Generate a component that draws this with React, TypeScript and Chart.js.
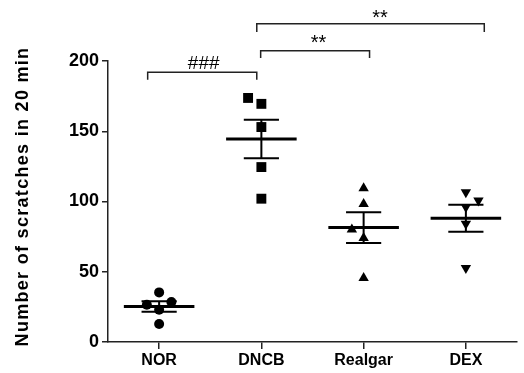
import React, { useEffect, useRef } from "react";
import { Chart, registerables } from "chart.js";

Chart.register(...registerables);

const categories = ["NOR", "DNCB", "Realgar", "DEX"];
const yTicks = [0, 50, 100, 150, 200];

const norValues = [35.3, 26.5, 28.5, 23, 12.8];
const dncbValues = [173.7, 169.5, 153, 124.5, 102];
const realgarValues = [109.5, 98.2, 80, 74, 45.5];
const dexValues = [106.5, 100.8, 96.1, 84.2, 52.7];

// horizontal jitter of individual points (in category units)
const norJitter = [0, -0.12, 0.12, 0, 0];
const dncbJitter = [-0.13, 0, 0, 0, 0];
const realgarJitter = [0, 0, -0.115, 0, 0];
const dexJitter = [0, 0.123, 0, 0, 0];

// significance brackets: from / to (category units), level and leg end (value units)
const bracketFrom = [-0.112, 0.993, 0.955];
const bracketTo = [0.955, 2.058, 3.18];
const bracketLevel = [192, 207.3, 226.6];
const bracketLegEnd = [186.7, 202.1, 220.7];
const bracketLabels = ["###", "**", "**"];
const bracketLabelX = [0.436, 1.558, 2.16];
const bracketLabelBaseline = [194.3, 208.6, 226.2];

const yTitle = "Number of scratches in 20 min";

const FONT = '"Liberation Sans", Arial, Helvetica, sans-serif';

const groups = [norValues, dncbValues, realgarValues, dexValues];
const jitters = [norJitter, dncbJitter, realgarJitter, dexJitter];
const pointStyles = ["circle", "rect", "triangle", "triangle"];
const pointRadii = [5, 7, 6, 6];
const pointRotations = [0, 0, 0, 180];

function meanOf(a: number[]) {
  return a.reduce((s, v) => s + v, 0) / a.length;
}
function semOf(a: number[]) {
  const m = meanOf(a);
  const v = a.reduce((s, x) => s + (x - m) * (x - m), 0) / (a.length - 1);
  return Math.sqrt(v) / Math.sqrt(a.length);
}

const errorPlugin = {
  id: "meanSem",
  beforeDatasetsDraw(chart: any) {
    const { ctx, scales } = chart;
    const xs = scales.x;
    const ys = scales.y;
    ctx.save();
    ctx.strokeStyle = "#000";
    groups.forEach((vals, i) => {
      const m = meanOf(vals);
      const s = semOf(vals);
      const yM = ys.getPixelForValue(m);
      const yHi = ys.getPixelForValue(m + s);
      const yLo = ys.getPixelForValue(m - s);
      const xC = xs.getPixelForValue(i);
      const xML = xs.getPixelForValue(i - 0.345);
      const xMR = xs.getPixelForValue(i + 0.345);
      const xCL = xs.getPixelForValue(i - 0.172);
      const xCR = xs.getPixelForValue(i + 0.172);
      ctx.lineWidth = 3;
      ctx.beginPath();
      ctx.moveTo(xML, yM);
      ctx.lineTo(xMR, yM);
      ctx.stroke();
      ctx.lineWidth = 2;
      ctx.beginPath();
      ctx.moveTo(xC, yHi);
      ctx.lineTo(xC, yLo);
      ctx.moveTo(xCL, yHi);
      ctx.lineTo(xCR, yHi);
      ctx.moveTo(xCL, yLo);
      ctx.lineTo(xCR, yLo);
      ctx.stroke();
    });
    ctx.restore();
  },
  afterDraw(chart: any) {
    const { ctx, scales, chartArea } = chart;
    const xs = scales.x;
    const ys = scales.y;
    ctx.save();
    ctx.strokeStyle = "#222";
    ctx.lineWidth = 1.5;
    bracketFrom.forEach((f, i) => {
      const x1 = xs.getPixelForValue(f);
      const x2 = xs.getPixelForValue(bracketTo[i]);
      const yl = ys.getPixelForValue(bracketLevel[i]);
      const ye = ys.getPixelForValue(bracketLegEnd[i]);
      ctx.beginPath();
      ctx.moveTo(x1, ye);
      ctx.lineTo(x1, yl);
      ctx.lineTo(x2, yl);
      ctx.lineTo(x2, ye);
      ctx.stroke();
      ctx.fillStyle = "#000";
      ctx.textAlign = "center";
      ctx.textBaseline = "alphabetic";
      ctx.font = bracketLabels[i] === "###" ? `19px ${FONT}` : `20px ${FONT}`;
      ctx.fillText(
        bracketLabels[i],
        xs.getPixelForValue(bracketLabelX[i]),
        ys.getPixelForValue(bracketLabelBaseline[i])
      );
    });
    // y axis title
    ctx.translate(28, (chartArea.top + chartArea.bottom) / 2 - 5);
    ctx.rotate(-Math.PI / 2);
    ctx.font = `bold 18px ${FONT}`;
    try {
      (ctx as any).letterSpacing = "1.3px";
    } catch (e) {}
    ctx.textAlign = "center";
    ctx.textBaseline = "alphabetic";
    ctx.fillStyle = "#000";
    ctx.fillText(yTitle, 0, 0);
    ctx.restore();
  },
};

export default function App() {
  const ref = useRef<HTMLCanvasElement>(null);
  useEffect(() => {
    document.body.style.margin = "0";
    const canvas = ref.current;
    if (!canvas) return;
    const datasets = groups.map((vals, i) => ({
      label: categories[i],
      data: vals.map((v, j) => ({ x: i + jitters[i][j], y: v })),
      pointStyle: pointStyles[i] as any,
      pointRadius: pointRadii[i],
      pointRotation: pointRotations[i],
      backgroundColor: "#000",
      borderColor: "#000",
      borderWidth: 0,
      showLine: false,
    }));
    const chart = new Chart(canvas, {
      type: "scatter",
      data: { datasets },
      plugins: [errorPlugin],
      options: {
        animation: false,
        responsive: false,
        maintainAspectRatio: false,
        layout: { padding: { top: 61, left: 0, right: 0, bottom: 0 } },
        plugins: { legend: { display: false }, tooltip: { enabled: false }, title: { display: false } },
        scales: {
          x: {
            type: "linear",
            min: -0.5,
            max: 3.5,
            afterBuildTicks: (scale: any) => {
              scale.ticks = categories.map((_, i) => ({ value: i }));
            },
            afterFit: (scale: any) => {
              scale.height = 31;
            },
            ticks: {
              callback: (v: any) => categories[Math.round(Number(v))] ?? "",
              color: "#000",
              font: { family: FONT, size: 16, weight: "bold" },
              padding: 2,
              maxRotation: 0,
              autoSkip: false,
            },
            grid: { drawOnChartArea: false, tickLength: 7, color: "#222", lineWidth: 1.5 },
            border: { color: "#222", width: 1.5 },
          },
          y: {
            type: "linear",
            min: 0,
            max: 200,
            afterBuildTicks: (scale: any) => {
              scale.ticks = yTicks.map((v) => ({ value: v }));
            },
            afterFit: (scale: any) => {
              scale.width = 108;
            },
            ticks: {
              color: "#000",
              font: { family: FONT, size: 18, weight: "bold" },
              padding: 3,
            },
            grid: { drawOnChartArea: false, tickLength: 6, color: "#222", lineWidth: 1.5 },
            border: { color: "#222", width: 1.5 },
          },
        },
      },
    });
    return () => chart.destroy();
  }, []);
  return <canvas ref={ref} width={524} height={373} style={{ display: "block" }} />;
}
